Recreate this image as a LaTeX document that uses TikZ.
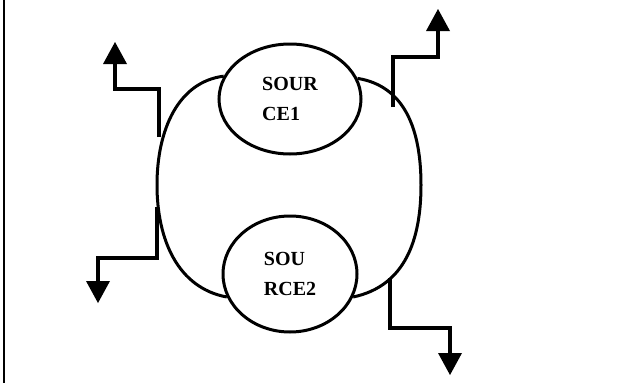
\documentclass[tikz,border=0pt]{standalone}
\usepackage{fontspec}
\setmainfont{Liberation Serif}
\usetikzlibrary{shapes.geometric,arrows.meta}
\begin{document}
\begin{tikzpicture}[x=1pt,y=-1pt,
  src/.style={ellipse,draw,line width=3pt,inner sep=0pt,align=left,
    font=\fontsize{20}{30}\selectfont\bfseries},
  oval/.style={line width=3pt},
  wire/.style={line width=4pt,
    -{Triangle[width=24pt,length=22pt,line width=0pt]}}]
\useasboundingbox (0,0) rectangle (632,383);

% frame line on the left
\draw[line width=2pt] (4.3,0) -- (4.3,383);

% the two sources
\node[src,minimum width=142pt,minimum height=110pt] (s1) at (290,99) {SOUR\\CE1};
\node[src,minimum width=134pt,minimum height=116pt] (s2) at (290,274) {SOU\\RCE2};

% outer ring joining the sources
\draw[oval] (s1.161) .. controls (178,82) and (157,130) .. (157,185)
  .. controls (157,240) and (178,288) .. (s2.200);
\draw[oval] (s1.17) .. controls (405,86) and (421,130) .. (421,185)
  .. controls (421,240) and (405,286) .. (s2.340);

% connector start points and tips
\coordinate (tl0) at (159,137);
\coordinate (tl1) at (115,42);
\coordinate (tr0) at (393,107);
\coordinate (tr1) at (438,9);
\coordinate (bl0) at (157,207);
\coordinate (bl1) at (98,303);
\coordinate (br0) at (390,278);
\coordinate (br1) at (450,375);

% stepped outputs
\draw[wire] (tl0) -- ++(0,-48) -| (tl1);
\draw[wire] (tr0) -- ++(0,-50) -| (tr1);
\draw[wire] (bl0) -- ++(0,51) -| (bl1);
\draw[wire] (br0) -- ++(0,50) -| (br1);
\end{tikzpicture}
\end{document}
